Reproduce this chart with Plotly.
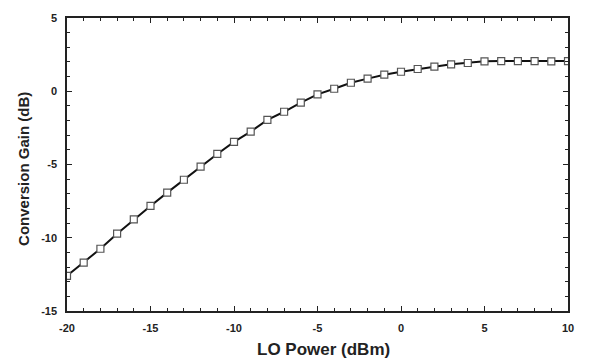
import plotly.graph_objects as go

lo_power = list(range(-20, 11))
conv_gain = [-12.6, -11.7, -10.75, -9.72, -8.75, -7.83, -6.92, -6.04, -5.15, -4.28,
             -3.46, -2.76, -1.95, -1.4, -0.78, -0.21, 0.17, 0.58, 0.86, 1.13,
             1.33, 1.52, 1.68, 1.84, 1.93, 2.04, 2.06, 2.06, 2.06, 2.04, 2.06]

x_ticks = [-20, -15, -10, -5, 0, 5, 10]
y_ticks = [-15, -10, -5, 0, 5]
x_title = "LO Power (dBm)"
y_title = "Conversion Gain (dB)"

fig = go.Figure()
fig.add_trace(go.Scatter(
    x=lo_power, y=conv_gain, mode="lines+markers",
    line=dict(color="#111111", width=2),
    marker=dict(symbol="square", size=7, color="white",
                line=dict(color="#555555", width=1.2)),
    showlegend=False,
))

axis_common = dict(
    showgrid=False, zeroline=False, showline=True, linecolor="#222222", linewidth=1.5,
    mirror="allticks", ticks="inside", ticklen=5, tickwidth=1.2, tickcolor="#222222",
    tickfont=dict(family="Liberation Sans, Arial", size=11, color="#222222", weight="bold"),
    automargin=False, ticklabelstandoff=6,
)

fig.update_xaxes(
    range=[-20, 10], tickvals=x_ticks, ticktext=[str(v) for v in x_ticks],
    minor=dict(dtick=1, ticks="inside", ticklen=3, tickcolor="#222222", tickwidth=1),
    **axis_common,
)
fig.update_yaxes(
    range=[-15, 5], tickvals=y_ticks, ticktext=[str(v) for v in y_ticks],
    minor=dict(dtick=1, ticks="inside", ticklen=3, tickcolor="#222222", tickwidth=1),
    **axis_common,
)

title_font = dict(family="Liberation Sans, Arial", color="#222222", weight="bold")
fig.add_annotation(text=x_title, xref="paper", yref="paper", x=0.511, y=-0.133,
                   xanchor="center", yanchor="middle", showarrow=False,
                   font=dict(size=17, **title_font))
fig.add_annotation(text=y_title, xref="paper", yref="paper", x=-0.0858, y=0.485,
                   xanchor="center", yanchor="middle", showarrow=False, textangle=-90,
                   font=dict(size=15, **title_font))

fig.update_layout(
    width=597, height=359,
    margin=dict(l=67, r=29, t=18, b=48),
    paper_bgcolor="white", plot_bgcolor="white",
)

fig.write_html("out.html")
